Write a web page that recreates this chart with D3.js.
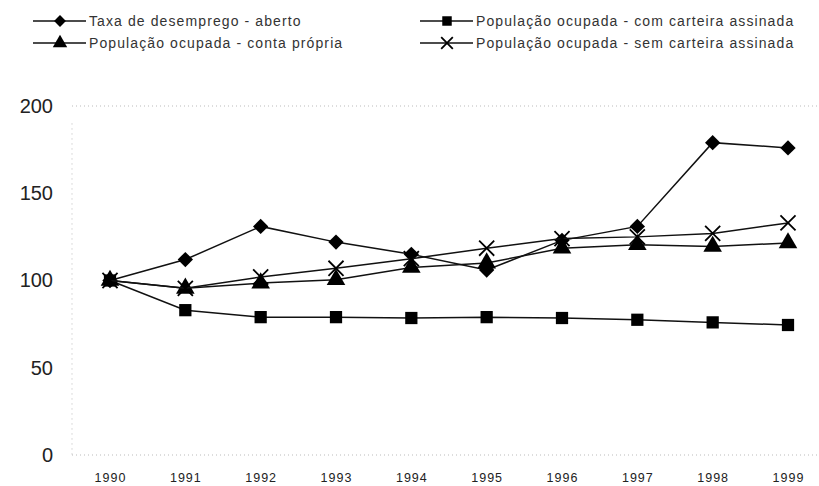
<!DOCTYPE html>
<html>
<head>
<meta charset="utf-8">
<script src="https://cdn.jsdelivr.net/npm/d3@7"></script>
<style>
  body { margin: 0; background: #fff; }
  svg { display: block; font-family: "Liberation Sans", Arial, sans-serif; }
</style>
</head>
<body>
<svg width="819" height="486"></svg>
<script>
const years = ['1990','1991','1992','1993','1994','1995','1996','1997','1998','1999']
const taxaDesemprego = [100, 112, 131, 122, 115, 106, 123, 131, 179, 176]
const comCarteira = [100, 83, 79, 79, 78.5, 79, 78.5, 77.5, 76, 74.5]
const contaPropria = [100, 95.5, 98.5, 100.5, 107.5, 110, 118.5, 120.5, 119.5, 121.5]
const semCarteira = [100, 95.5, 102, 107, 112.5, 118.5, 124, 125, 127, 133]
const yTicks = [0, 50, 100, 150, 200]

const series = [
  {name: 'Taxa de desemprego - aberto', values: taxaDesemprego, symbol: 'diamond'},
  {name: 'População ocupada - com carteira assinada', values: comCarteira, symbol: 'square'},
  {name: 'População ocupada - conta própria', values: contaPropria, symbol: 'triangle'},
  {name: 'População ocupada - sem carteira assinada', values: semCarteira, symbol: 'cross'}
]

const svg = d3.select('svg')

const x = d3.scalePoint().domain(years).range([110, 788])
const y = d3.scaleLinear().domain([0, 200]).range([455, 106])

// faint dotted grid / frame
svg.append('g').selectAll('line')
  .data([0, 200])
  .join('line')
    .attr('x1', 72).attr('x2', 819)
    .attr('y1', d => y(d)).attr('y2', d => y(d))
    .attr('stroke', '#bbb')
    .attr('stroke-width', 1)
    .attr('stroke-dasharray', '1,3')
svg.append('line')
  .attr('x1', 72).attr('x2', 72)
  .attr('y1', y(190)).attr('y2', y(0))
  .attr('stroke', '#bbb')
  .attr('stroke-dasharray', '1,4')

// y axis labels
const yAxis = d3.axisLeft(y).tickValues(yTicks).tickSize(0).tickPadding(0)
svg.append('g')
  .attr('transform', 'translate(53,0)')
  .call(yAxis)
  .call(g => g.select('.domain').remove())
  .selectAll('text')
    .attr('font-size', 20)
    .attr('fill', '#222')
    .attr('font-family', '"Liberation Sans", Arial, sans-serif')

// x axis labels
const xAxis = d3.axisBottom(x).tickSize(0).tickPadding(0)
svg.append('g')
  .attr('transform', 'translate(0,473)')
  .call(xAxis)
  .call(g => g.select('.domain').remove())
  .selectAll('text')
    .attr('font-size', 12.5)
    .attr('letter-spacing', 1)
    .attr('fill', '#222')
    .attr('font-family', '"Liberation Sans", Arial, sans-serif')

function symbolFor(name, size){
  if(name === 'diamond') return d3.symbol().type(d3.symbolDiamond2).size(size)()
  if(name === 'square') return d3.symbol().type(d3.symbolSquare).size(size)()
  if(name === 'triangle') return d3.symbol().type(d3.symbolTriangle).size(size)()
  return d3.symbol().type(d3.symbolTimes).size(size)()
}

function drawMarker(g, s, cx, cy, big){
  const sz = big ? 150 : 90
  if(s.symbol === 'cross'){
    g.append('path')
      .attr('d', symbolFor('cross', sz))
      .attr('transform', `translate(${cx},${cy})`)
      .attr('fill', 'none')
      .attr('stroke', '#000')
      .attr('stroke-width', 1.8)
  }else{
    g.append('path')
      .attr('d', symbolFor(s.symbol, sz))
      .attr('transform', `translate(${cx},${cy})`)
      .attr('fill', '#000')
  }
}

const line = d3.line()
  .x((d, i) => x(years[i]))
  .y(d => y(d))

series.forEach(s => {
  const g = svg.append('g')
  g.append('path')
    .datum(s.values)
    .attr('d', line)
    .attr('fill', 'none')
    .attr('stroke', '#111')
    .attr('stroke-width', 1.5)
  s.values.forEach((v, i) => drawMarker(g, s, x(years[i]), y(v), true))
})

// legend
const legendPos = [[33, 21], [420, 21], [33, 43], [420, 43]]
series.forEach((s, i) => {
  const g = svg.append('g').attr('transform', `translate(${legendPos[i][0]},${legendPos[i][1]})`)
  g.append('line')
    .attr('x1', 0).attr('x2', 53)
    .attr('stroke', '#111').attr('stroke-width', 1.5)
  drawMarker(g, s, 27, 0, false)
  g.append('text')
    .attr('x', 56).attr('y', 5)
    .attr('font-size', 14)
    .attr('letter-spacing', 1.1)
    .attr('fill', '#333')
    .text(s.name)
})
</script>
</body>
</html>
